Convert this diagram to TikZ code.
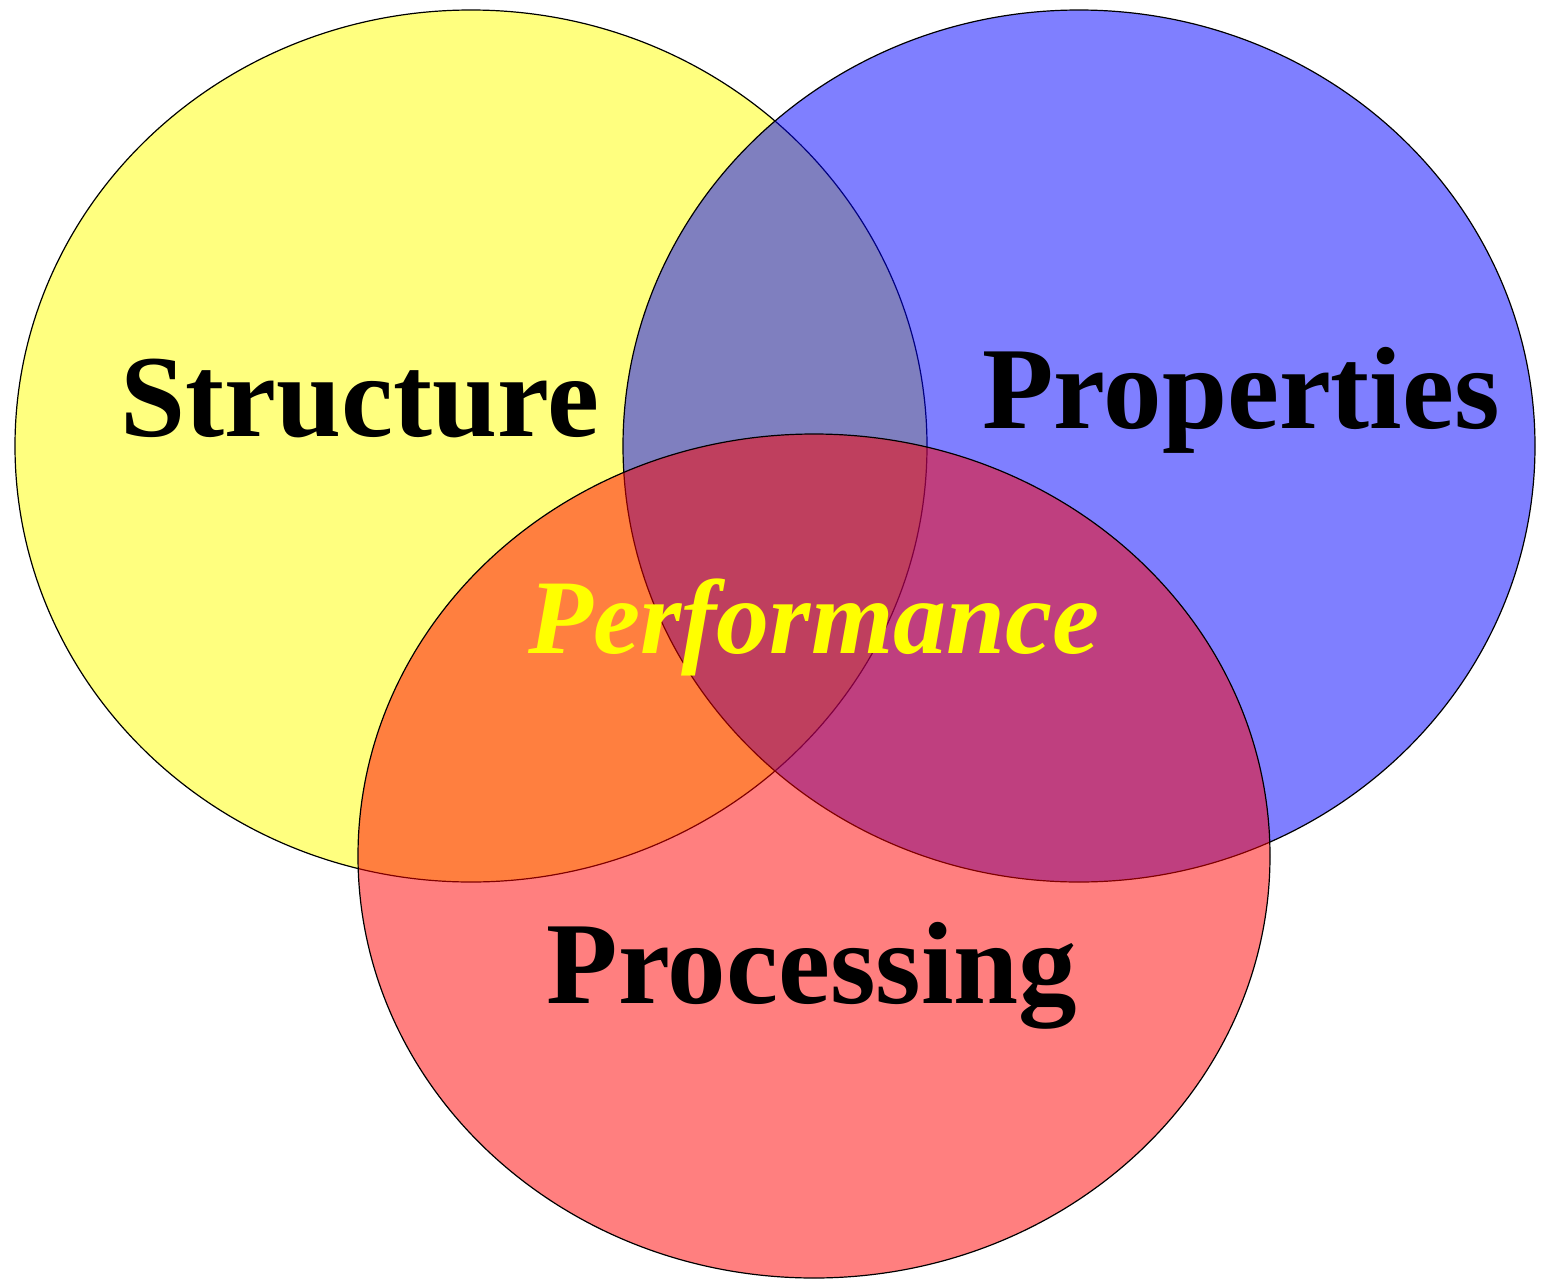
\documentclass[tikz,border=0pt]{standalone}
\usepackage{fontspec}
\setmainfont{Liberation Serif}
\definecolor{setyellow}{RGB}{255,255,0}
\definecolor{setblue}{RGB}{0,0,255}
\definecolor{setred}{RGB}{255,0,0}
\begin{document}
\begin{tikzpicture}[x=1pt,y=-1pt,
  set/.style={draw=black,line width=1.2pt,fill opacity=0.5},
  lab/.style={anchor=base,inner sep=0pt,font=\bfseries\fontsize{117}{117}\selectfont},
  perf/.style={anchor=base,inner sep=0pt,text=setyellow,font=\bfseries\itshape\fontsize{106}{106}\selectfont}]
\useasboundingbox (0,0) rectangle (1543,1280);
\path[set,fill=setyellow] (471,446) ellipse [x radius=456, y radius=436];
\path[set,fill=setblue] (1079,446) ellipse [x radius=456, y radius=436];
\path[set,fill=setred] (814,856) ellipse [x radius=456, y radius=422];
\node[lab] (structure) at (360,436) {Structure};
\node[lab] (properties) at (1241,428) {Properties};
\node[lab] (processing) at (812,1003) {Processing};
\node[perf] (performance) at (814,653) {Performance};
\end{tikzpicture}
\end{document}
